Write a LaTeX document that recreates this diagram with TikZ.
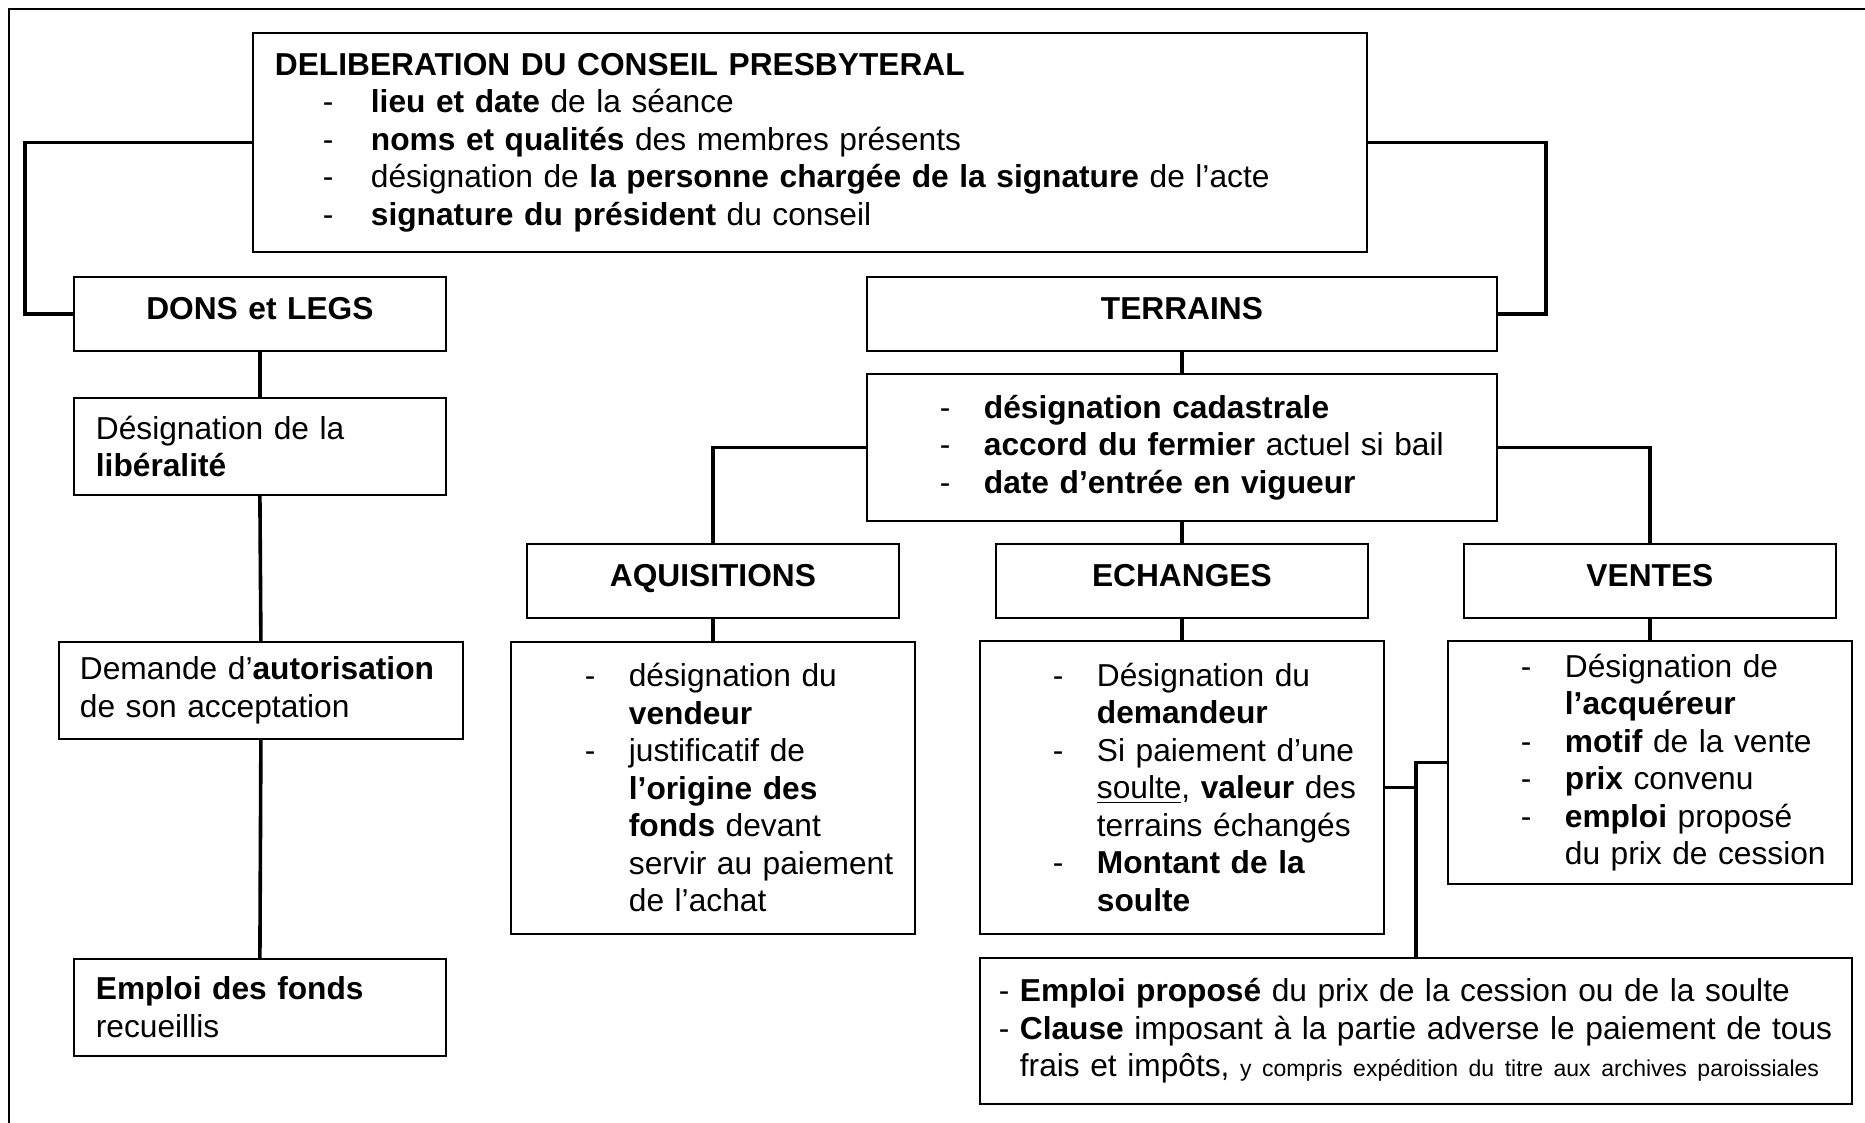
\documentclass[tikz,border=0pt]{standalone}
\usepackage{fontspec}
\setmainfont{Liberation Sans}
\newcommand\bodysize{\fontsize{15.85pt}{18.75pt}\selectfont}
\newcommand\smallsize{\fontsize{11.5pt}{14pt}\selectfont}
\newcommand\itm[1][22pt]{\leavevmode\llap{\makebox[#1][l]{-}}}
\newcommand\cl{\leavevmode\llap{- }}

\tikzset{every picture/.style={line width=0.75pt}}
\tikzset{
  box/.style={draw, line width=0.9pt, anchor=north west, inner xsep=0pt, inner ysep=0pt, align=left, font=\bodysize},
  head/.style={box, align=center, font=\bodysize\bfseries, text height=11.4pt, text depth=6pt, text width=186pt, minimum height=37pt},
  link/.style={line width=1.8pt},
}

\begin{document}
\begin{tikzpicture}[x=0.5pt,y=0.5pt,yscale=-1,xscale=1]
\useasboundingbox (0,0) rectangle (1865,1123);
%Frame
\draw [line width=1.2pt] (1865,9) -- (9,9) -- (9,1123);

% Text Node
\node [box, text width=557pt, minimum height=109.5pt] (delib) at (252,32) {\leftskip=59pt
\hspace*{-48pt}\textbf{DELIBERATION DU CONSEIL PRESBYTERAL}\\
\itm[24pt]\textbf{lieu et date} de la séance\\
\itm[24pt]\textbf{noms et qualités} des membres présents\\
\itm[24pt]désignation de \textbf{la personne chargée de la signature} de l’acte\\
\itm[24pt]\textbf{signature du président} du conseil\par};
% Text Node
\node [head] (dons) at (73,276) {DONS et LEGS};
% Text Node
\node [head, text width=315pt] (terrains) at (866,276) {TERRAINS};
% Text Node
\node [box, text width=315pt, minimum height=73.5pt] (info) at (866,373) {\leftskip=58.5pt
\itm\textbf{désignation cadastrale}\\
\itm\textbf{accord du fermier} actuel si bail\\
\itm\textbf{date d’entrée en vigueur}\par};

% Text Node
\node [box, text width=186pt, minimum height=48.5pt] (liber) at (73,397) {\leftskip=11pt
Désignation de la\\
\textbf{libéralité}\par};
% Text Node
\node [box, text width=202pt, minimum height=48.5pt] (demande) at (58,641) {\leftskip=10.5pt
Demande d’\textbf{autorisation}\\
de son acceptation\par};
% Text Node
\node [box, text width=186pt, minimum height=48.5pt] (emploi) at (73,958) {\leftskip=11pt
\textbf{Emploi des fonds}\\
recueillis\par};

% Text Node
\node [head] (aqui) at (526,543) {AQUISITIONS};
% Text Node
\node [head] (echanges) at (995,543) {ECHANGES};
% Text Node
\node [head] (ventes) at (1463,543) {VENTES};

% Text Node
\node [box, text width=202pt, minimum height=146pt] (aquidet) at (510,641) {\leftskip=59pt
\itm désignation du\\
\textbf{vendeur}\\
\itm justificatif de\\
\textbf{l’origine des}\\
\textbf{fonds} devant\\
servir au paiement\\
de l’achat\par};
% Text Node
\node [box, text width=202pt, minimum height=146.5pt] (echdet) at (979,640) {\leftskip=58.5pt
\itm Désignation du\\
\textbf{demandeur}\\
\itm Si paiement d’une\\
\underline{soulte}, \textbf{valeur} des\\
terrains échangés\\
\itm\textbf{Montant de la}\\
\textbf{soulte}\par};
% Text Node
\node [box, text width=202pt, minimum height=121.5pt] (vendet) at (1447,640) {\leftskip=58.5pt
\itm Désignation de\\
\textbf{l’acquéreur}\\
\itm\textbf{motif} de la vente\\
\itm\textbf{prix} convenu\\
\itm\textbf{emploi} proposé\\
du prix de cession\par};
% Text Node
\node [box, text width=436pt, minimum height=73pt] (clause) at (979,957) {\leftskip=20pt
\cl\textbf{Emploi proposé} du prix de la cession ou de la soulte\\
\cl\textbf{Clause} imposant à la partie adverse le paiement de tous\\
\mbox{frais et impôts, {\smallsize y compris expédition du titre aux archives paroissiales}}\par};

%Straight Lines
\draw [link] (delib.west) -- ++(-227,0) |- (dons.west);
\draw [link] (delib.east) -- ++(178,0) |- (terrains.east);
\draw [link] (dons.south) -- (liber.north);
\draw [link] (liber.south) -- (demande.north);
\draw [link] (demande.south) -- (emploi.north);
\draw [link] (terrains.south) -- (info.north);
\draw [link] (info.west) -| (aqui.north);
\draw [link] (info.south) -- (echanges.north);
\draw [link] (info.east) -| (ventes.north);
\draw [link] (aqui.south) -- (aquidet.north);
\draw [link] (echanges.south) -- (echdet.north);
\draw [link] (ventes.south) -- (vendet.north);
\draw [link] (vendet.west) -| (clause.north);
\draw [link] (echdet.east) -- (echdet.east -| clause.north);

\end{tikzpicture}
\end{document}
